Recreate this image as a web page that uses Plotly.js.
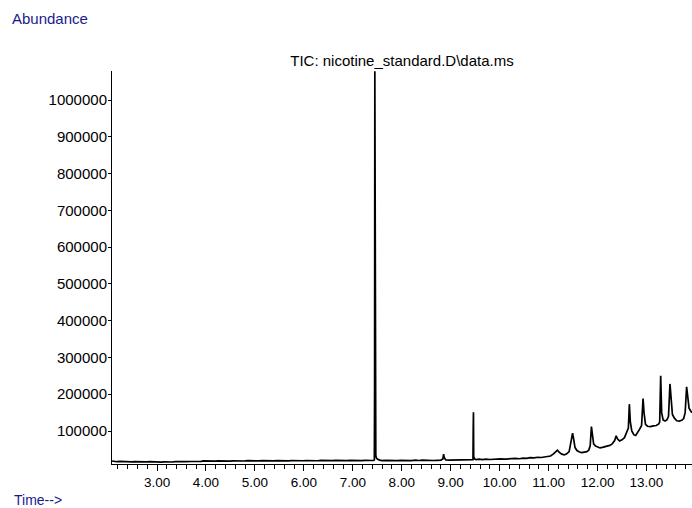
<!DOCTYPE html>
<html>
<head>
<meta charset="utf-8">
<script src="https://cdn.plot.ly/plotly-3.0.1.min.js"></script>
<style>html,body{margin:0;padding:0;background:#fff;}#chart{width:692px;height:508px;}</style>
</head>
<body>
<div id="chart"></div>
<script>
// Retention time (min)
const times = [
  2.08, 2.12, 2.18, 2.25, 2.32, 2.40, 2.48, 2.55, 2.62, 2.70, 2.78, 2.85, 2.92, 3.00,
  3.08, 3.15, 3.22, 3.30, 3.38, 3.45, 3.52, 3.60, 3.68, 3.75, 3.82, 3.90, 3.95,
  4.02, 4.10, 4.18, 4.25, 4.32, 4.40, 4.48, 4.55, 4.62, 4.70, 4.78, 4.85, 4.92,
  5.00, 5.08, 5.15, 5.22, 5.30, 5.38, 5.45, 5.52, 5.60, 5.68, 5.75, 5.82, 5.90, 5.98,
  6.05, 6.12, 6.20, 6.28, 6.35, 6.42, 6.50, 6.58, 6.65, 6.72, 6.80, 6.88, 6.95,
  7.02, 7.10, 7.18, 7.25, 7.32, 7.38, 7.42,
  7.440, 7.445, 7.450, 7.455, 7.462, 7.470, 7.48, 7.50, 7.55, 7.60, 7.68, 7.75, 7.82, 7.90, 7.98,
  8.05, 8.12, 8.20, 8.28, 8.35, 8.42, 8.50, 8.58, 8.65, 8.72, 8.80, 8.84, 8.855, 8.87, 8.90, 8.98,
  9.05, 9.12, 9.20, 9.28, 9.35, 9.42, 9.455, 9.46, 9.465, 9.47, 9.49, 9.52, 9.58, 9.65, 9.72, 9.80, 9.88, 9.95,
  10.02, 10.10, 10.18, 10.25, 10.32, 10.40, 10.48, 10.55, 10.62, 10.70, 10.78, 10.85, 10.92, 10.98,
  11.04, 11.10, 11.15, 11.18, 11.22, 11.27, 11.32, 11.37, 11.42, 11.46, 11.49, 11.51, 11.54, 11.58,
  11.63, 11.68, 11.73, 11.78, 11.82, 11.85, 11.875, 11.89, 11.92, 11.96,
  12.00, 12.05, 12.10, 12.15, 12.20, 12.25, 12.30, 12.35, 12.38, 12.41, 12.45, 12.50, 12.55,
  12.60, 12.63, 12.65, 12.67, 12.70, 12.74, 12.78, 12.82, 12.86, 12.90, 12.93, 12.95, 12.98,
  13.02, 13.08, 13.14, 13.20, 13.25, 13.27, 13.29, 13.31, 13.34, 13.38, 13.42, 13.45, 13.48,
  13.50, 13.53, 13.57, 13.62, 13.67, 13.72, 13.76, 13.79, 13.82, 13.84, 13.87, 13.90, 13.93
];
// Total ion current abundance
const abundance = [
  18500, 17000, 16500, 17200, 16400, 16800, 16200, 16900, 16300, 16700, 16100, 16500, 15800, 16200,
  15600, 15900, 15500, 15800, 16600, 16200, 16900, 16500, 17100, 16700, 17300, 17600, 18800,
  18200, 18900, 18300, 18700, 18100, 18600, 18200, 18800, 18300, 18900, 18400, 19300, 18700,
  19200, 18800, 19500, 18900, 19400, 19000, 19600, 19100, 19500, 19000, 19700, 19200, 19600, 19100,
  19800, 19300, 19700, 19200, 19900, 19400, 19800, 19300, 20000, 19500, 19900, 19400, 20100,
  19600, 20000, 19500, 20200, 19700, 20100, 19800,
  21000, 212000, 1078000, 62000, 58000, 34000, 27000, 24000, 21000, 19500, 20200, 19400, 20000, 19300, 19900,
  19200, 20300, 19500, 20800, 19800, 21000, 20100, 20600, 19800, 20400, 20900, 24000, 37000, 27000, 21500, 21000,
  21200, 20900, 21300, 21000, 21400, 21200, 22000, 105000, 151000, 30000, 24000, 22500, 23500, 22200, 23800, 22600, 23900, 23000,
  24200, 23400, 24800, 24000, 25400, 24600, 26500, 25800, 27500, 26800, 28600, 28000, 30200, 30800,
  32000, 38000, 46000, 48000, 42000, 37000, 35000, 38000, 44000, 70000, 94000, 80000, 55000, 47000,
  43000, 41500, 42500, 44000, 48000, 60000, 112000, 95000, 65000, 59000,
  56000, 54000, 55500, 57000, 58500, 61000, 65000, 74000, 87000, 78000, 73000, 76000, 82000,
  100000, 108000, 173000, 125000, 100000, 90000, 88000, 95000, 105000, 115000, 188000, 150000, 118000,
  113000, 112000, 114000, 115000, 119000, 125000, 250000, 150000, 130000, 127000, 131000, 140000, 228000,
  185000, 145000, 135000, 128000, 127000, 129000, 134000, 150000, 220000, 195000, 162000, 155000, 150000
];
const xTickVals = [3, 4, 5, 6, 7, 8, 9, 10, 11, 12, 13];
const xTickText = ["3.00", "4.00", "5.00", "6.00", "7.00", "8.00", "9.00", "10.00", "11.00", "12.00", "13.00"];
const yTickVals = [100000, 200000, 300000, 400000, 500000, 600000, 700000, 800000, 900000, 1000000];
const yTickText = ["100000", "200000", "300000", "400000", "500000", "600000", "700000", "800000", "900000", "1000000"];
const chartTitle = "TIC: nicotine_standard.D\\data.ms";

const trace = {
  x: times, y: abundance, type: 'scatter', mode: 'lines',
  line: {color: '#000000', width: 1.7}, hoverinfo: 'skip'
};
const baseFont = "'Liberation Sans', Arial, sans-serif";
const layout = {
  width: 692, height: 508,
  margin: {l: 112, r: 0, t: 71, b: 44, pad: 0},
  paper_bgcolor: '#ffffff', plot_bgcolor: '#ffffff',
  showlegend: false,
  font: {family: baseFont, color: '#000000', size: 13},
  title: {
    text: chartTitle, xref: 'paper', x: 0.5, xanchor: 'center',
    yref: 'container', y: 1 - 61/508, yanchor: 'middle',
    font: {family: baseFont, size: 15, color: '#000000'}
  },
  xaxis: {
    range: [2.08, 13.93], tickvals: xTickVals, ticktext: xTickText,
    showline: true, linecolor: '#000000', linewidth: 1,
    ticks: 'outside', ticklen: 6, tickwidth: 1, tickcolor: '#000000',
    minor: {dtick: 0.2, tick0: 3, ticks: 'outside', ticklen: 4, tickwidth: 1, tickcolor: '#000000', showgrid: false},
    showgrid: false, zeroline: false, tickfont: {size: 13.5, family: baseFont, color: '#000000'}
  },
  yaxis: {
    range: [10300, 1079000], tickvals: yTickVals, ticktext: yTickText,
    showline: true, linecolor: '#000000', linewidth: 1,
    ticks: 'outside', ticklen: 3, tickwidth: 1, tickcolor: '#000000', ticklabelstandoff: -2,
    showgrid: false, zeroline: false, tickfont: {size: 15, family: baseFont, color: '#000000'}
  },
  annotations: [
    {text: 'Abundance', xref: 'paper', yref: 'paper', x: (10-112)/580, y: 1 + (71-19)/393,
     xanchor: 'left', yanchor: 'middle', showarrow: false,
     font: {family: baseFont, size: 15, color: '#1a1a8c'}},
    {text: 'Time-->', xref: 'paper', yref: 'paper', x: (12-112)/580, y: (464-500)/393,
     xanchor: 'left', yanchor: 'middle', showarrow: false,
     font: {family: baseFont, size: 14, color: '#1a1a8c'}}
  ]
};
Plotly.newPlot('chart', [trace], layout, {staticPlot: true, displayModeBar: false});
</script>
</body>
</html>
